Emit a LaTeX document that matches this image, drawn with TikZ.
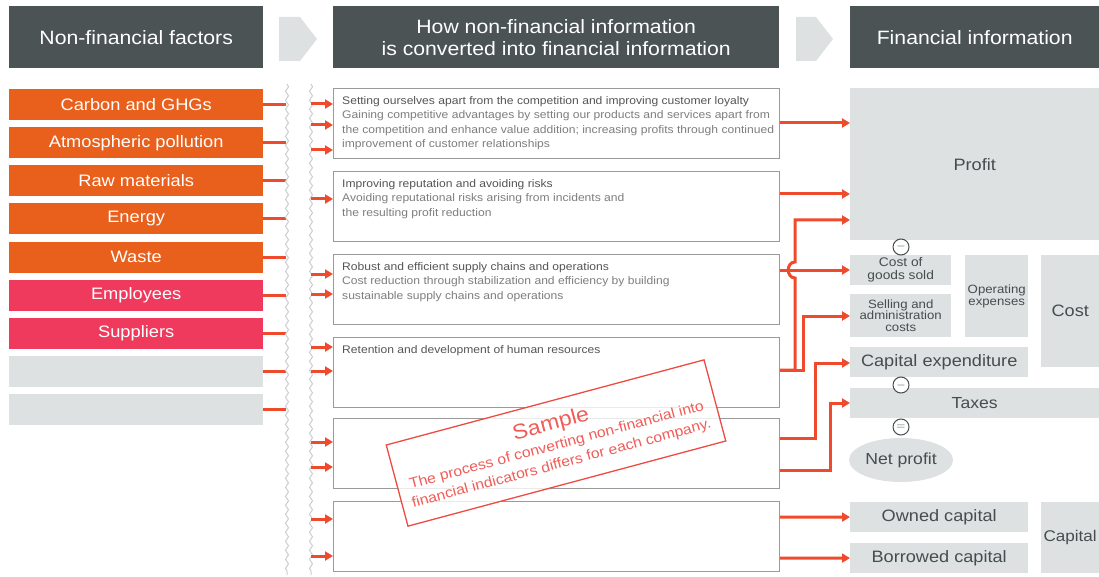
\documentclass[tikz,border=0pt]{standalone}
\usepackage{fontspec}
\setmainfont{Liberation Sans}[FakeStretch=1.1]
\usetikzlibrary{arrows.meta,decorations.pathmorphing,shapes.geometric}

\definecolor{headgray}{HTML}{4B5355}
\definecolor{lightgray}{HTML}{DDE1E2}
\definecolor{envorange}{HTML}{E8601C}
\definecolor{socpink}{HTML}{EF3A5D}
\definecolor{linkred}{HTML}{F04A2C}
\definecolor{midline}{HTML}{9A9A9A}
\definecolor{titletext}{HTML}{555555}
\definecolor{bodytext}{HTML}{7E7E7E}
\definecolor{fintext}{HTML}{474C4E}
\definecolor{stampred}{HTML}{EE4B45}

\begin{document}
\begin{tikzpicture}[x=1pt, y=-1pt,
  header/.style={rectangle, fill=headgray, text=white, anchor=north west,
    minimum height=62pt, align=center, inner sep=0pt,
    font=\fontsize{19.3}{22}\selectfont},
  factor/.style={rectangle, anchor=north west, minimum width=254pt,
    minimum height=31pt, inner sep=0pt, text=white,
    font=\fontsize{16.6}{19}\selectfont},
  midbox/.style={rectangle, draw=midline, line width=1pt, anchor=north west,
    minimum width=446pt, minimum height=70pt, inner sep=0pt},
  midtext/.style={anchor=north west, inner sep=0pt, align=left,
    text=bodytext, font=\fontsize{11}{14.5}\selectfont},
  finbox/.style={rectangle, fill=lightgray, anchor=north west, inner sep=0pt,
    text=fintext, align=center, font=\fontsize{16.5}{19}\selectfont},
  finsmall/.style={finbox, font=\fontsize{12}{11.5}\selectfont},
  opsign/.style={circle, draw=fintext, fill=white, line width=1pt,
    minimum size=16pt, inner sep=0pt, text=fintext,
    font=\fontsize{12}{12}\selectfont},
  stamp/.style={rectangle, draw=stampred, line width=1.3pt, rotate=15,
    minimum width=329pt, minimum height=84pt, align=center,
    fill=white, fill opacity=0.8, text opacity=1, text=stampred!90,
    font=\fontsize{14.3}{19}\selectfont},
  wave/.style={draw=lightgray!80!gray, line width=1pt, decorate,
    decoration={snake, amplitude=1.5pt, segment length=9pt}},
  link/.style={draw=linkred, line width=3pt},
  arrow/.style={link, -{Triangle[length=8pt,width=9pt]}},
]
\path[use as bounding box, fill=white] (0,0) rectangle (1099,577);

\node[header, minimum width=254pt] (h1) at (9,6) {Non-financial factors};
\node[header, minimum width=446pt] (h2) at (333,6)
  {How non-financial information\\is converted into financial information};
\node[header, minimum width=249pt] (h3) at (850,6) {Financial information};

\fill[lightgray] (279,17) -- (300,17) -- (317,39) -- (300,61) -- (279,61) -- cycle;
\fill[lightgray] (796,17) -- (816,17) -- (833,39) -- (816,61) -- (796,61) -- cycle;

\foreach \lbl/\col [count=\i] in {Carbon and GHGs/envorange,
    Atmospheric pollution/envorange, Raw materials/envorange,
    Energy/envorange, Waste/envorange, Employees/socpink,
    Suppliers/socpink, {}/lightgray, {}/lightgray} {
  \node[factor, fill=\col] (f\i) at (9, {89+38.1*(\i-1)}) {\lbl};
  \draw[link] (f\i.east) -- ++(23,0);
}

\draw[wave] (287,84) -- (287,575);
\draw[wave] (311,84) -- (311,575);

\node[midbox] (m1) at (333,88) {};
\node[midbox] (m2) at (333,171) {};
\node[midbox] (m3) at (333,254) {};
\node[midbox] (m4) at (333,337) {};
\node[midbox] (m5) at (333,418) {};
\node[midbox] (m6) at (333,501) {};

\node[midtext] (t1) at (342,96)
  {{\color{titletext}Setting ourselves apart from the competition and improving customer loyalty}\\
   Gaining competitive advantages by setting our products and services apart from\\
   the competition and enhance value addition; increasing profits through continued\\
   improvement of customer relationships};
\node[midtext] (t2) at (342,179)
  {{\color{titletext}Improving reputation and avoiding risks}\\
   Avoiding reputational risks arising from incidents and\\
   the resulting profit reduction};
\node[midtext] (t3) at (342,262)
  {{\color{titletext}Robust and efficient supply chains and operations}\\
   Cost reduction through stabilization and efficiency by building\\
   sustainable supply chains and operations};
\node[midtext] (t4) at (342,345)
  {{\color{titletext}Retention and development of human resources}};

\foreach \y in {104,125,150,199,274,294,347,371,442,467,519,556}
  \draw[arrow] (311,\y) -- (m1.west |- 0,\y);

\node[finbox, minimum width=249pt, minimum height=152pt,
  font=\fontsize{16.5}{19}\selectfont] (profit) at (850,88) {Profit};
\node[finsmall, minimum width=101pt, minimum height=30pt,
  font=\fontsize{12.5}{13}\selectfont] (cogs) at (850,255) {Cost of\\goods sold};
\node[finsmall, minimum width=101pt, minimum height=43pt] (sga) at (850,294)
  {Selling and\\administration\\costs};
\node[finsmall, minimum width=63pt, minimum height=82pt] (opex) at (965,255)
  {Operating\\expenses};
\node[finbox, minimum width=58pt, minimum height=112pt] (cost) at (1041,255)
  {Cost};
\node[finbox, minimum width=178pt, minimum height=30pt] (capex) at (850,347)
  {Capital expenditure};
\node[finbox, minimum width=249pt, minimum height=30pt,
  font=\fontsize{16}{19}\selectfont] (tax) at (850,388) {Taxes};
\node[ellipse, fill=lightgray, minimum width=104pt, minimum height=44pt,
  inner sep=0pt, text=fintext, font=\fontsize{16}{19}\selectfont]
  (net) at (901,460) {Net profit};
\node[finbox, minimum width=178pt, minimum height=30pt] (owned) at (850,502)
  {Owned capital};
\node[finbox, minimum width=178pt, minimum height=30pt] (borrowed) at (850,543)
  {Borrowed capital};
\node[finbox, minimum width=58pt, minimum height=71pt,
  font=\fontsize{15.5}{18}\selectfont] (capital) at (1041,502) {Capital};

\node[opsign] (op1) at (901,247) {$-$};
\node[opsign] (op2) at (901,385) {$-$};
\node[opsign] (op3) at (901,427) {$=$};

\draw[arrow] (m1.east |- 0,123) -- (profit.west |- 0,123);
\draw[arrow] (m2.east |- 0,194) -- (profit.west |- 0,194);
\draw[arrow] (m3.east |- 0,270) -- (cogs.west |- 0,270);
\draw[arrow] (m4.east |- 0,370) -- (795,370) -- (795,278)
  .. controls (786,278) and (786,262) .. (795,262) -- (795,220)
  -- (profit.west |- 0,220);
\draw[arrow] (m4.east |- 0,370) -- (803,370) -- (803,316) -- (sga.west |- 0,316);
\draw[arrow] (m5.east |- 0,438) -- (815,438) -- (815,363) -- (capex.west |- 0,363);
\draw[arrow] (m5.east |- 0,470) -- (830,470) -- (830,403) -- (tax.west |- 0,403);
\draw[arrow] (m6.east |- 0,517) -- (owned);
\draw[arrow] (m6.east |- 0,558) -- (borrowed);

\node[stamp] (sample) at (556,443)
  {{\fontsize{21}{23}\selectfont Sample}\\[1pt]
   The process of converting non-financial into\\
   financial indicators differs for each company.};
\end{tikzpicture}
\end{document}
